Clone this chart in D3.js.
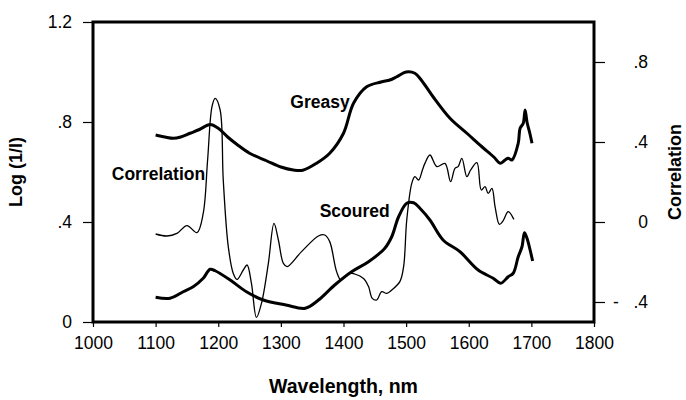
<!DOCTYPE html>
<html>
<head>
<meta charset="utf-8">
<script src="https://cdn.jsdelivr.net/npm/d3@7"></script>
<style>
  body { margin: 0; background: #fff; }
  svg text { font-family: "Liberation Sans", Arial, sans-serif; fill: #000; }
</style>
</head>
<body>
<svg id="chart" width="686" height="400"></svg>
<script>
// Spectra: [wavelength nm, value]
const greasy = [
  [1100, 0.748], [1115, 0.74], [1128, 0.735], [1140, 0.74], [1155, 0.755],
  [1170, 0.77], [1187, 0.79], [1200, 0.775], [1215, 0.74], [1230, 0.71],
  [1250, 0.675], [1277, 0.645], [1300, 0.62], [1320, 0.608], [1335, 0.607],
  [1357, 0.635], [1378, 0.675], [1400, 0.755], [1416, 0.875], [1437, 0.941],
  [1460, 0.96], [1474, 0.968], [1485, 0.981], [1500, 1.0], [1514, 0.995],
  [1525, 0.965], [1543, 0.901], [1570, 0.815], [1597, 0.755], [1621, 0.701],
  [1640, 0.66], [1650, 0.635], [1658, 0.648], [1663, 0.655], [1669, 0.648],
  [1679, 0.715], [1682, 0.775], [1687, 0.795], [1690, 0.848], [1693, 0.80],
  [1698, 0.75], [1701, 0.715]
];

const scoured = [
  [1100, 0.099], [1123, 0.095], [1144, 0.121], [1160, 0.141], [1176, 0.175],
  [1187, 0.211], [1195, 0.205], [1219, 0.168], [1245, 0.121], [1272, 0.088],
  [1308, 0.068], [1339, 0.055], [1360, 0.088], [1386, 0.148], [1413, 0.201],
  [1440, 0.241], [1466, 0.295], [1477, 0.341], [1488, 0.421], [1501, 0.475],
  [1512, 0.477], [1522, 0.455], [1538, 0.408], [1559, 0.328], [1586, 0.281],
  [1615, 0.208], [1639, 0.175], [1651, 0.155], [1663, 0.181], [1671, 0.195],
  [1679, 0.261], [1685, 0.301], [1689, 0.357], [1693, 0.335], [1698, 0.288],
  [1702, 0.244]
];

// correlation uses the right hand axis
const correlation = [
  [1100, -0.06], [1118, -0.07], [1134, -0.057], [1150, -0.018], [1166, -0.053],
  [1176, 0.043], [1183, 0.31], [1190, 0.577], [1195, 0.618], [1203, 0.56],
  [1208, 0.21], [1216, -0.123], [1224, -0.257], [1230, -0.287], [1240, -0.24],
  [1246, -0.215], [1253, -0.307], [1261, -0.477], [1269, -0.407], [1280, -0.207],
  [1289, -0.007], [1296, -0.09], [1304, -0.207], [1310, -0.223], [1333, -0.148],
  [1360, -0.07], [1370, -0.065], [1378, -0.098], [1389, -0.248], [1396, -0.29],
  [1408, -0.257], [1418, -0.26], [1432, -0.282], [1440, -0.323], [1446, -0.382],
  [1453, -0.39], [1461, -0.348], [1469, -0.357], [1477, -0.34], [1490, -0.298],
  [1496, -0.223], [1501, 0.01], [1509, 0.193], [1514, 0.227], [1520, 0.21],
  [1526, 0.26], [1530, 0.293], [1538, 0.335], [1549, 0.277], [1562, 0.293],
  [1571, 0.202], [1578, 0.268], [1583, 0.277], [1589, 0.318], [1597, 0.227],
  [1603, 0.26], [1613, 0.297], [1620, 0.16], [1626, 0.177], [1631, 0.143],
  [1637, 0.168], [1642, 0.077], [1649, -0.012], [1655, 0.007], [1663, 0.052],
  [1672, 0.013]
];

const xTicks = [1000, 1100, 1200, 1300, 1400, 1500, 1600, 1700, 1800];
const leftTicks = [0, 0.4, 0.8, 1.2];
const rightTicks = [-0.4, 0, 0.4, 0.8];

const labels = [
  { text: "Greasy", wl: 1315, val: 0.855 },
  { text: "Correlation", wl: 1030, val: 0.57 },
  { text: "Scoured", wl: 1362, val: 0.42 }
];

const margin = { top: 22, right: 92, bottom: 78, left: 93 };
const width = 686, height = 400;

const svg = d3.select("#chart");

const x = d3.scaleLinear()
  .domain([1000, 1800])
  .range([margin.left, width - margin.right]);

const yLeft = d3.scaleLinear()
  .domain([0, 1.2])
  .range([height - margin.bottom, margin.top]);

const yRight = d3.scaleLinear()
  .domain([-0.5, 1.0])
  .range([height - margin.bottom, margin.top]);

// strip the leading zero like ".4"
function fmtLeft(d) {
  if (d === 0) return "0";
  return d3.format(".1f")(d).replace(/^0/, "");
}
function fmtRight(d) {
  if (d === 0) return "0";
  if (d < 0) return "-\u00A0\u00A0\u00A0" + d3.format(".1f")(-d).replace(/^0/, "");
  return d3.format(".1f")(d).replace(/^0/, "");
}

const xAxis = svg.append("g")
  .attr("transform", `translate(0,${yLeft(0)})`)
  .call(d3.axisBottom(x).tickValues(xTicks).tickSize(5).tickPadding(10).tickFormat(d3.format("d")));

const leftAxis = svg.append("g")
  .attr("transform", `translate(${x(1000)},0)`)
  .call(d3.axisLeft(yLeft).tickValues(leftTicks).tickSize(10).tickPadding(11).tickFormat(fmtLeft));

const rightAxis = svg.append("g")
  .attr("transform", `translate(${x(1800)},0)`)
  .call(d3.axisRight(yRight).tickValues(rightTicks).tickSize(11).tickFormat(fmtRight));

[xAxis, leftAxis, rightAxis].forEach((g) => {
  g.select(".domain").remove();
  g.selectAll(".tick line").attr("stroke", "#000").attr("stroke-width", 1.2);
  g.selectAll(".tick text")
    .attr("font-size", 17.5)
    .attr("font-family", "Liberation Sans, Arial, sans-serif")
    .attr("fill", "#000");
});

// right labels are end aligned
rightAxis.selectAll(".tick text")
  .attr("text-anchor", "end")
  .attr("x", 54);

// frame
svg.append("rect")
  .attr("x", x(1000))
  .attr("y", yLeft(1.2))
  .attr("width", x(1800) - x(1000))
  .attr("height", yLeft(0) - yLeft(1.2))
  .attr("fill", "none")
  .attr("stroke", "#000")
  .attr("stroke-width", 3);

const lineLeft = d3.line()
  .x((d) => x(d[0]))
  .y((d) => yLeft(d[1]))
  .curve(d3.curveCatmullRom.alpha(0.5));

const lineRight = d3.line()
  .x((d) => x(d[0]))
  .y((d) => yRight(d[1]))
  .curve(d3.curveCatmullRom.alpha(0.5));

svg.append("path")
  .datum(correlation)
  .attr("d", lineRight)
  .attr("fill", "none")
  .attr("stroke", "#000")
  .attr("stroke-width", 1.3);

svg.append("path")
  .datum(greasy)
  .attr("d", lineLeft)
  .attr("fill", "none")
  .attr("stroke", "#000")
  .attr("stroke-width", 3)
  .attr("stroke-linejoin", "round");

svg.append("path")
  .datum(scoured)
  .attr("d", lineLeft)
  .attr("fill", "none")
  .attr("stroke", "#000")
  .attr("stroke-width", 3)
  .attr("stroke-linejoin", "round");

// curve labels
svg.selectAll(".curve-label")
  .data(labels)
  .join("text")
  .attr("class", "curve-label")
  .attr("x", (d) => x(d.wl))
  .attr("y", (d) => yLeft(d.val))
  .attr("font-size", 17.5)
  .attr("font-weight", "bold")
  .text((d) => d.text);

// axis titles
svg.append("text")
  .attr("x", (x(1000) + x(1800)) / 2)
  .attr("y", 393)
  .attr("text-anchor", "middle")
  .attr("font-size", 19.5)
  .attr("font-weight", "bold")
  .text("Wavelength, nm");

svg.append("text")
  .attr("transform", `translate(22,${(yLeft(0) + yLeft(1.2)) / 2}) rotate(-90)`)
  .attr("text-anchor", "middle")
  .attr("font-size", 18)
  .attr("font-weight", "bold")
  .text("Log (1/I)");

svg.append("text")
  .attr("transform", `translate(681,${(yLeft(0) + yLeft(1.2)) / 2}) rotate(-90)`)
  .attr("text-anchor", "middle")
  .attr("font-size", 18)
  .attr("font-weight", "bold")
  .text("Correlation");
</script>
</body>
</html>
